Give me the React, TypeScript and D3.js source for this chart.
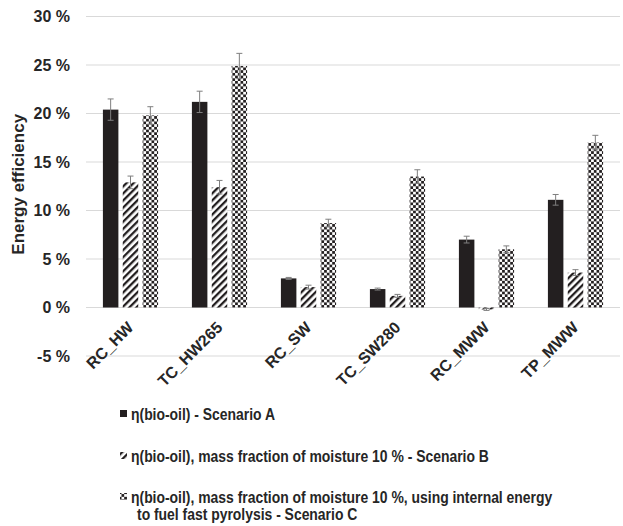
import React from "react";
import * as d3 from "d3";

const categories = ["RC_HW", "TC_HW265", "RC_SW", "TC_SW280", "RC_MWW", "TP_MWW"];
const seriesNames = [
  "η(bio-oil)  - Scenario A",
  "η(bio-oil), mass fraction of moisture 10 % - Scenario B",
  "η(bio-oil), mass fraction of moisture 10 %, using internal energy",
];
const legendExtraLine = "to fuel fast pyrolysis - Scenario C";
const scenarioA = [20.4, 21.2, 3.0, 1.9, 7.0, 11.1];
const errA = [1.1, 1.1, 0.1, 0.1, 0.35, 0.55];
const scenarioB = [12.9, 12.4, 2.1, 1.2, -0.2, 3.6];
const errB = [0.65, 0.7, 0.2, 0.15, 0.1, 0.3];
const scenarioC = [19.8, 24.9, 8.7, 13.5, 6.0, 17.0];
const errC = [0.9, 1.3, 0.4, 0.7, 0.35, 0.75];
const yTicks = [-5, 0, 5, 10, 15, 20, 25, 30];

const W = 623;
const H = 526;
const FONT = "'Liberation Sans', Arial, sans-serif";

export default function App() {
  const x0 = d3.scaleBand<string>().domain(categories).range([86, 620]).paddingInner(0.38).paddingOuter(0.19);
  const keys = ["A", "B", "C"];
  const x1 = d3.scaleBand<string>().domain(keys).range([0, x0.bandwidth()]).paddingInner(0.22);
  const y = d3.scaleLinear().domain([-5, 30]).range([356, 16.5]);
  const data = [
    { key: "A", vals: scenarioA, err: errA, fill: "#231f20" },
    { key: "B", vals: scenarioB, err: errB, fill: "url(#hatch)" },
    { key: "C", vals: scenarioC, err: errC, fill: "url(#checker)" },
  ];
  const legendY = [420, 462, 503];
  return (
    <svg width={W} height={H} style={{ position: "absolute", left: 0, top: 0, background: "#fff" }} fontFamily={FONT}>
      <defs>
        <pattern id="hatch" patternUnits="userSpaceOnUse" width="5" height="5" patternTransform="rotate(45)">
          <rect width="5" height="5" fill="#fff" />
          <rect x="0" y="0" width="2.3" height="5" fill="#231f20" />
        </pattern>
        <pattern id="checker" patternUnits="userSpaceOnUse" width="5.4" height="5.4">
          <rect width="5.4" height="5.4" fill="#fff" />
          <rect x="0" y="0" width="2.7" height="2.7" fill="#231f20" />
          <rect x="2.7" y="2.7" width="2.7" height="2.7" fill="#231f20" />
        </pattern>
      </defs>
      <rect width={W} height={H} fill="#fff" />
      {yTicks.map((t) => (
        <g key={t}>
          <line x1={86} x2={620} y1={y(t)} y2={y(t)} stroke="#d9d9d9" strokeWidth={1.2} />
          <text x={70} y={y(t)} dy="0.36em" textAnchor="end" fontSize={16} fontWeight="bold" fill="#262626">
            {`${t} %`}
          </text>
        </g>
      ))}
      <g transform={`translate(24,${y(12.7)})`}>
        <text transform="rotate(-90)" textAnchor="middle" fontSize={17} fontWeight="bold" fill="#262626">
          Energy efficiency
        </text>
      </g>
      {categories.map((c, i) => (
        <g key={c} transform={`translate(${x0(c)},0)`}>
          {data.map((s) => {
            const v = s.vals[i];
            const bx = x1(s.key)!;
            const bw = x1.bandwidth();
            const top = y(Math.max(0, v));
            const bot = y(Math.min(0, v));
            const cx = bx + bw / 2;
            const e = s.err[i];
            return (
              <g key={s.key}>
                <rect x={bx} y={top} width={bw} height={Math.max(0.8, bot - top)} fill={s.fill} />
                <line x1={cx} x2={cx} y1={y(v + e)} y2={y(v - e)} stroke="#7f7f7f" strokeWidth={1} />
                <line x1={cx - 3} x2={cx + 3} y1={y(v + e)} y2={y(v + e)} stroke="#7f7f7f" strokeWidth={1} />
                <line x1={cx - 3} x2={cx + 3} y1={y(v - e)} y2={y(v - e)} stroke="#7f7f7f" strokeWidth={1} />
              </g>
            );
          })}
        </g>
      ))}
      {categories.map((c) => {
        const ax = (x0(c) as number) + x0.bandwidth() / 2 + 4;
        const ay = y(0) + 21;
        return (
          <g key={c} transform={`translate(${ax},${ay})`}>
            <text transform="rotate(-45)" textAnchor="end" fontSize={16} fontWeight="bold" fill="#262626">
              {c}
            </text>
          </g>
        );
      })}
      {data.map((s, i) => (
        <g key={s.key}>
          <rect x={120} y={legendY[i] - 10} width={7} height={7} fill={s.fill} />
          <g transform={`translate(131,${legendY[i]}) scale(0.87,1)`}>
            <text x={0} y={0} fontSize={16} fontWeight="bold" fill="#262626">
              {seriesNames[i]}
            </text>
          </g>
        </g>
      ))}
      <g transform={`translate(137,520) scale(0.87,1)`}>
        <text x={0} y={0} fontSize={16} fontWeight="bold" fill="#262626">
          {legendExtraLine}
        </text>
      </g>
    </svg>
  );
}
